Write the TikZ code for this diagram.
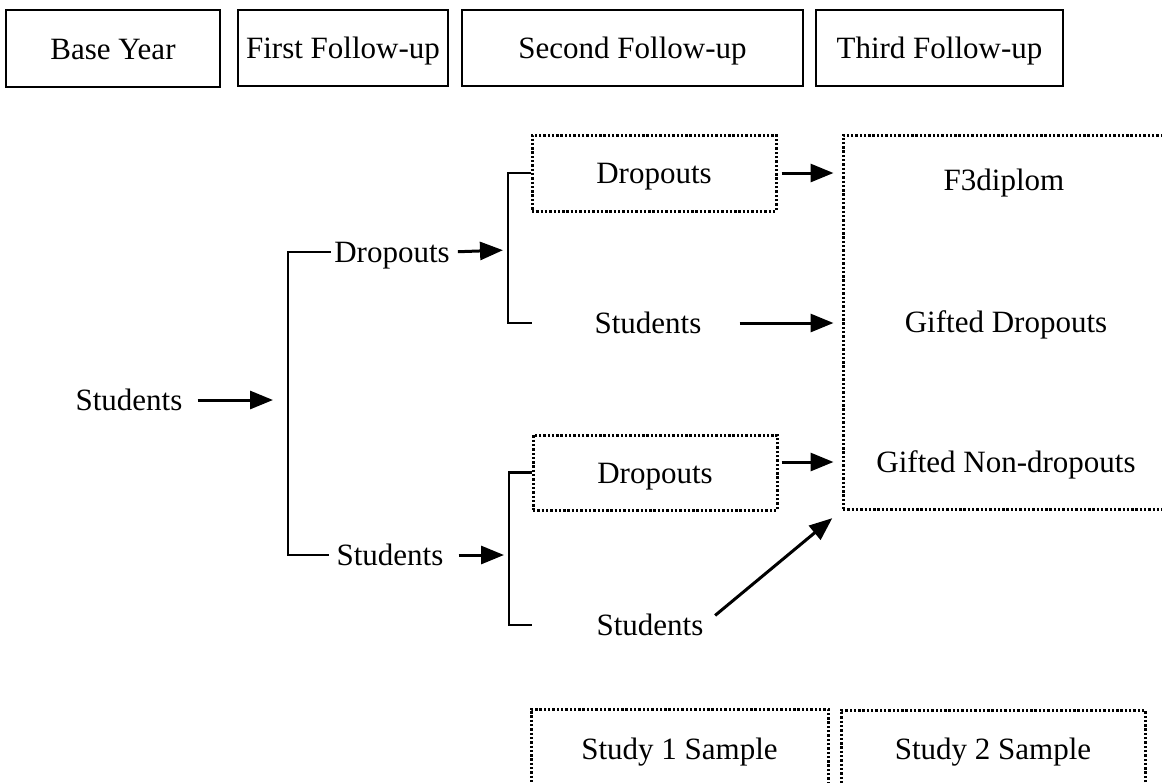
\documentclass[tikz,border=0pt]{standalone}
\usepackage{fontspec}
\setmainfont{Liberation Serif}
\usetikzlibrary{arrows.meta}
\begin{document}
\begin{tikzpicture}[x=1pt,y=-1pt,
  every node/.style={font=\fontsize{31}{36}\selectfont, text height=21pt, text depth=0pt, inner sep=0pt},
  solidbox/.style={draw, line width=2.6pt},
  dotbox/.style={draw, line width=3pt, dash pattern=on 2.4pt off 1.9pt},
  conn/.style={line width=2.6pt},
  arr/.style={line width=3pt, -{Triangle[length=23pt,width=18pt]}}]
\useasboundingbox (0,0) rectangle (1162,782);
\clip (0,0) rectangle (1162,782);
\fill[white] (0,0) rectangle (1162,782);
% header boxes
\node[solidbox, minimum width=214pt, minimum height=77pt] (base) at (113,48.5) {Base Year};
\node[solidbox, minimum width=210pt, minimum height=76pt] (first) at (343,48) {First Follow-up};
\node[solidbox, minimum width=341pt, minimum height=76pt] (second) at (632.5,48) {Second Follow-up};
\node[solidbox, minimum width=247pt, minimum height=76pt] (third) at (939.5,48) {Third Follow-up};
% dotted boxes
\node[dotbox, minimum width=244pt, minimum height=76pt] (dA) at (654,173) {Dropouts};
\node[dotbox, minimum width=244pt, minimum height=75pt] (dB) at (655,472.5) {Dropouts};
\node[dotbox, minimum width=332pt, minimum height=374pt] (t3) at (1009,322) {};
\node[dotbox, minimum width=297pt, minimum height=79pt] (st1) at (679.5,748.5) {Study 1 Sample};
\node[dotbox, minimum width=304pt, minimum height=78pt] (st2) at (993,749) {Study 2 Sample};
% text nodes
\node (s0) at (129,400) {Students};
\node (d1) at (392,252) {Dropouts};
\node (s1) at (390,555) {Students};
\node (s2a) at (648,323) {Students};
\node (s2b) at (650,625) {Students};
\node (f3) at (1004,180) {F3diplom};
\node (gd) at (1006,322) {Gifted Dropouts};
\node (gn) at (1006,462) {Gifted Non-dropouts};
% junction coordinates
\coordinate (b1) at (288,400);
\coordinate (b2) at (508,250);
\coordinate (b3) at (509,555);
% level 0 -> level 1
\draw[arr, shorten <=15pt, shorten >=15pt] (s0.east) -- (b1);
\draw[conn] ([xshift=-3pt]d1.west) -| (b1) |- ([xshift=-7pt]s1.west);
% level 1 -> level 2
\draw[arr, shorten <=8pt, shorten >=5pt] (d1.east) -- (b2);
\draw[conn] (dA.west) -| (b2) |- ([xshift=-62pt]s2a.west);
\draw[arr, shorten <=15pt, shorten >=5pt] (s1.east) -- (b3);
\draw[conn] (dB.west) -| (b3) |- ([xshift=-64pt]s2b.west);
% level 2 -> level 3
\draw[arr, shorten <=4pt, shorten >=8pt] (dA.east) -- (dA.east -| t3.west);
\draw[arr, shorten <=38pt, shorten >=8pt] (s2a.east) -- (s2a.east -| t3.west);
\draw[arr, shorten <=3pt, shorten >=8pt] (dB.east |- gn) -- (t3.west |- gn);
\draw[arr, shorten <=15pt, shorten >=12pt] (s2b.east) -- (t3.south west);
\end{tikzpicture}
\end{document}
